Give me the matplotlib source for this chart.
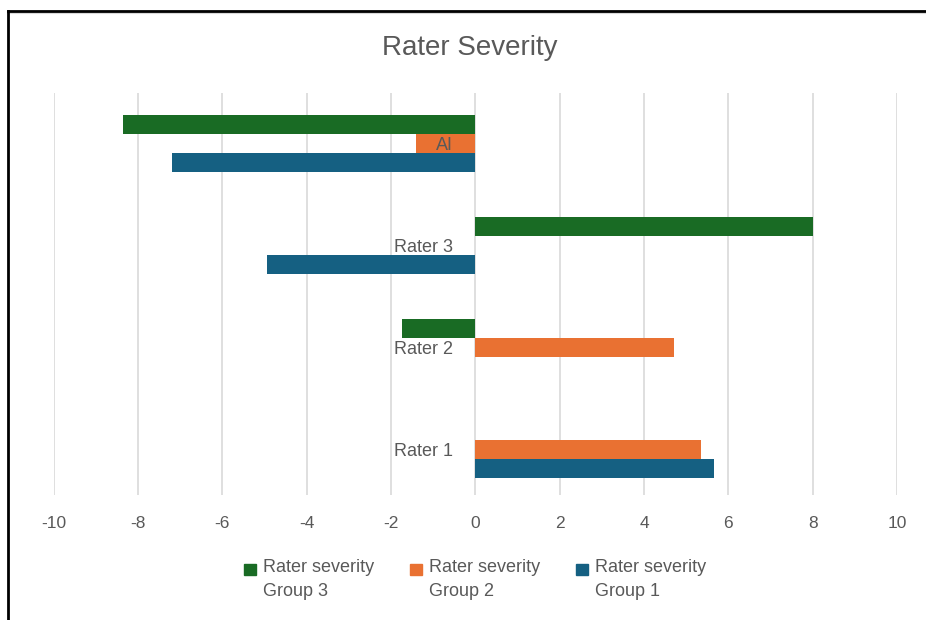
import numpy as np
import matplotlib
matplotlib.use('Agg')
import matplotlib.pyplot as plt
from matplotlib.lines import Line2D
from matplotlib.patches import Rectangle

plt.rcParams['font.family'] = ['Liberation Sans', 'DejaVu Sans']

# data
categories = ['Rater 1', 'Rater 2', 'Rater 3', 'AI']
group1 = [5.65, 0.0, -4.95, -7.2]
group2 = [5.35, 4.7, 0.0, -1.4]
group3 = [0.0, -1.75, 8.0, -8.35]
series_names = ['Rater severity\nGroup 3', 'Rater severity\nGroup 2', 'Rater severity\nGroup 1']
xticks = [-10, -8, -6, -4, -2, 0, 2, 4, 6, 8, 10]

col1 = '#156082'
col2 = '#E97132'
col3 = '#196B24'
grey = '#595959'

W, H = 926, 620
fig = plt.figure(figsize=(W / 100, H / 100), dpi=100)
ax = fig.add_axes([0.058, 0.2016, 0.9107, 0.6484])

# gridlines drawn by hand so they sit under the bars while tick labels stay on top
ax.vlines(xticks, 0, 1, transform=ax.get_xaxis_transform(), color='#d9d9d9',
          linewidth=1.2, zorder=0)

barh = 0.186
y = np.arange(len(categories))
ax.barh(y + barh, group3, height=barh, color=col3, zorder=1)
ax.barh(y, group2, height=barh, color=col2, zorder=1)
ax.barh(y - barh, group1, height=barh, color=col1, zorder=1)

ax.set_xlim(-10, 10)
ax.set_ylim(-0.45, 3.5)
ax.set_xticks(xticks)
ax.set_xticklabels([str(t) for t in xticks])
ax.set_yticks(y)
ax.set_yticklabels(categories)

for s in ['top', 'right', 'bottom']:
    ax.spines[s].set_visible(False)
ax.spines['left'].set_position(('data', 0))
ax.spines['left'].set_visible(False)
ax.tick_params(axis='x', length=0, pad=15, labelsize=12.5, labelcolor=grey)
ax.tick_params(axis='y', length=0, pad=16, labelsize=13, labelcolor=grey)

fig.text(470 / W, 1 - 48 / H, 'Rater Severity', ha='center', va='center',
         fontsize=20, color=grey)

# legend laid out like the Excel one: marker next to the first line
colors = [col3, col2, col1]
for i, (name, c) in enumerate(zip(series_names, colors)):
    x0 = 244 + i * 166
    fig.add_artist(Rectangle((x0 / W, 1 - 575 / H), 12 / W, 11 / H,
                             transform=fig.transFigure, color=c))
    fig.text((x0 + 19) / W, 1 - 559 / H, name, ha='left', va='top',
             fontsize=13, color=grey, linespacing=1.5)

# frame lines round the screenshot
fig.add_artist(Line2D([8 / W, 1], [1 - 13 / H, 1 - 13 / H], color='#d9d9d9', linewidth=1.5))
fig.add_artist(Line2D([8 / W, 1], [1 - 11 / H, 1 - 11 / H], color='black', linewidth=2))
fig.add_artist(Line2D([8 / W, 8 / W], [0, 1 - 11 / H], color='black', linewidth=2))

fig.savefig('out.png', dpi=100)
